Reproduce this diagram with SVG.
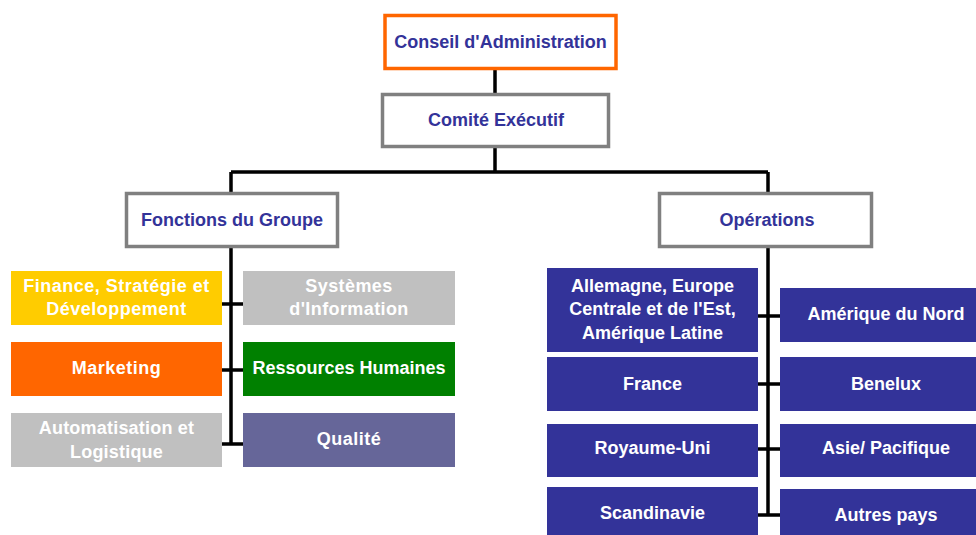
<svg xmlns="http://www.w3.org/2000/svg" width="976" height="535" viewBox="0 0 976 535">
<style>
.t{font-family:"Liberation Sans",Arial,sans-serif;font-weight:bold;font-size:18px;text-anchor:middle}
.blue{fill:#333399}
.w{fill:#ffffff}
.hd{fill:#ffffff;stroke:#808080;stroke-width:3.5}
.ln{stroke:#000;stroke-width:3.5;fill:none}
.op{fill:#333399}
</style>
<rect width="976" height="535" fill="#ffffff"/>
<g id="connectors">
<path class="ln" d="M495 69V94M495 147V172M231 172H768M231 172V194M768 172V194"/>
<path class="ln" d="M231 247V444M222 304H243M222 370H243M222 444H243"/>
<path class="ln" d="M768 247V515M758 316H780M758 384H780M758 449H780M758 515H780"/>
</g>
<g id="conseil"><rect x="385" y="15.5" width="231" height="53" fill="#fff" stroke="#FF6600" stroke-width="3.5"/><text class="t blue" x="500.5" y="48">Conseil d'Administration</text></g>
<g id="comite"><rect class="hd" x="382.5" y="94.5" width="226" height="52"/><text class="t blue" x="496" y="126">Comité Exécutif</text></g>
<g id="fonctions"><rect class="hd" x="126.5" y="193.5" width="211" height="53"/><text class="t blue" x="232" y="225.5">Fonctions du Groupe</text></g>
<g id="operations"><rect class="hd" x="659.5" y="193.5" width="212" height="53"/><text class="t blue" x="767" y="225.5">Opérations</text></g>
<g id="finance"><rect x="11" y="271" width="211" height="54" fill="#FFCC00"/><text class="t w" x="116.5" y="291.5" letter-spacing="0.5">Finance, Stratégie et</text><text class="t w" x="116.5" y="314.5" letter-spacing="0.5">Développement</text></g>
<g id="systemes"><rect x="243" y="271" width="212" height="54" fill="#C0C0C0"/><text class="t w" x="349" y="291.5" letter-spacing="0.4">Systèmes</text><text class="t w" x="349" y="314.5" letter-spacing="0.4">d'Information</text></g>
<g id="marketing"><rect x="11" y="342" width="211" height="54" fill="#FF6600"/><text class="t w" x="116.5" y="373.5" letter-spacing="0.5">Marketing</text></g>
<g id="rh"><rect x="243" y="342" width="212" height="54" fill="#008000"/><text class="t w" x="349" y="373.5">Ressources Humaines</text></g>
<g id="automatisation"><rect x="11" y="413" width="211" height="54" fill="#C0C0C0"/><text class="t w" x="116.5" y="433.5" letter-spacing="0.2">Automatisation et</text><text class="t w" x="116.5" y="457.5" letter-spacing="0.2">Logistique</text></g>
<g id="qualite"><rect x="243" y="413" width="212" height="54" fill="#666699"/><text class="t w" x="349" y="444.5" letter-spacing="0.5">Qualité</text></g>
<g id="allemagne"><rect class="op" x="547" y="268" width="211" height="84"/><text class="t w" x="652.5" y="291.5">Allemagne, Europe</text><text class="t w" x="652.5" y="314.5">Centrale et de l'Est,</text><text class="t w" x="652.5" y="338.5">Amérique Latine</text></g>
<g id="france"><rect class="op" x="547" y="357" width="211" height="54"/><text class="t w" x="652.5" y="389.5">France</text></g>
<g id="royaume"><rect class="op" x="547" y="424" width="211" height="53"/><text class="t w" x="652.5" y="453.5">Royaume-Uni</text></g>
<g id="scandinavie"><rect class="op" x="547" y="487" width="211" height="50"/><text class="t w" x="652.5" y="518.5">Scandinavie</text></g>
<g id="amerique"><rect class="op" x="780" y="288" width="212" height="54"/><text class="t w" x="886" y="319.5">Amérique du Nord</text></g>
<g id="benelux"><rect class="op" x="780" y="357" width="212" height="54"/><text class="t w" x="886" y="389.5">Benelux</text></g>
<g id="asie"><rect class="op" x="780" y="424" width="212" height="53"/><text class="t w" x="886" y="453.5">Asie/ Pacifique</text></g>
<g id="autres"><rect class="op" x="780" y="489" width="212" height="48"/><text class="t w" x="886" y="520.5">Autres pays</text></g>
</svg>
